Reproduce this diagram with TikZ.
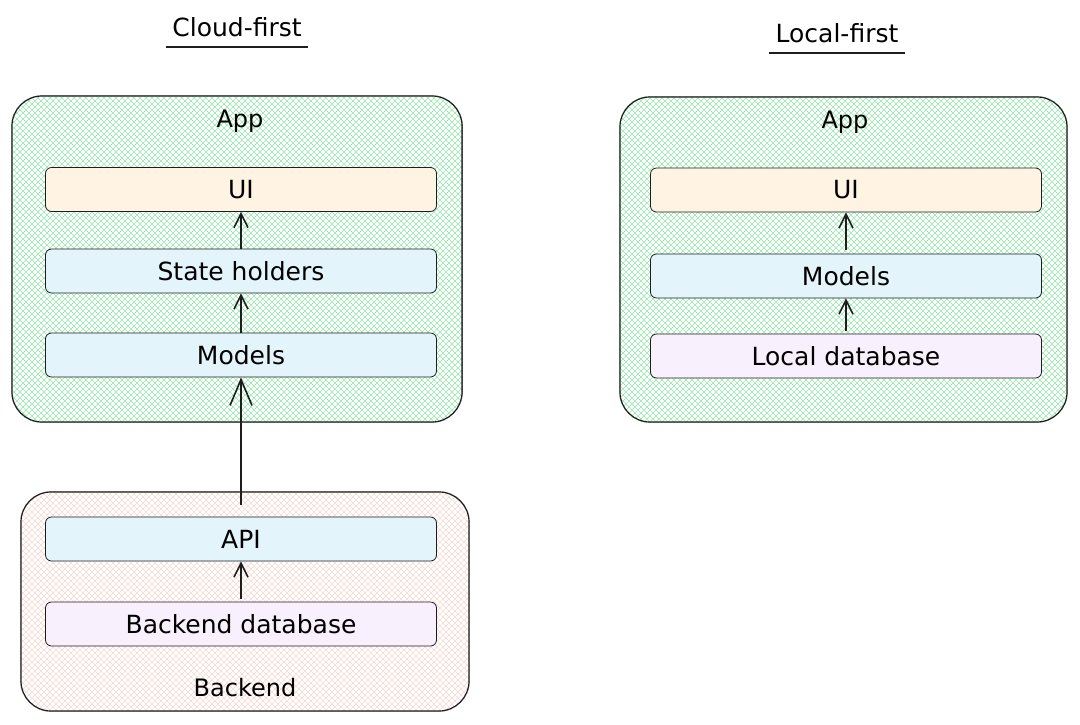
\documentclass[tikz,border=0pt]{standalone}
\usepackage{fontspec}
\setmainfont{DejaVu Sans}
\usetikzlibrary{arrows.meta}
\definecolor{inkline}{RGB}{30,30,30}
\definecolor{hatchgreen}{RGB}{150,232,170}
\definecolor{hatchpink}{RGB}{248,218,212}
\definecolor{uifill}{RGB}{255,243,227}
\definecolor{bluefill}{RGB}{227,244,251}
\definecolor{dbfill}{RGB}{248,240,252}
\tikzstyle{container}=[draw=inkline, line width=1.2pt, rounded corners=30pt, inner sep=0pt]
\tikzstyle{layer}=[draw=inkline, line width=0.8pt, rounded corners=6pt, minimum width=391pt, minimum height=44pt, font=\fontsize{25}{29}\selectfont, text=black]
\tikzstyle{label}=[font=\fontsize{24}{28}\selectfont, text=black]
\tikzstyle{title}=[font=\fontsize{25}{29}\selectfont, text=black, inner xsep=6pt]
\tikzstyle{underline}=[line width=2pt, draw=inkline]
\tikzstyle{flow}=[line width=1.6pt, draw=inkline, -{Straight Barb[length=14pt,width=14pt,line width=1.6pt]}]
\tikzstyle{long flow}=[line width=1.6pt, draw=inkline, -{Straight Barb[length=26pt,width=22pt,line width=1.6pt]}]
% cross hatch clipped to a container node
\newcommand{\hatchfill}[3]{%
  \begin{scope}
    \clip[rounded corners=30pt] (#1.north west) rectangle (#1.south east);
    \fill[white] (#1.north west) rectangle (#1.south east);
    \foreach \c in {-726,-720,...,1080} {
      \draw[#2, line width=#3] (\c, 0) -- ++(724, 724);
      \draw[#2, line width=#3] (\c+724, 0) -- ++(-724, 724);
    }
  \end{scope}}

\begin{document}
\begin{tikzpicture}[x=1pt, y=-1pt]
      \useasboundingbox (0, 0) rectangle (1080, 724);
      % cloud-first
      \node[title] (cloudtitle) at (237, 27) {Cloud-first};
      \draw[underline] ([yshift=-7pt]cloudtitle.south west) -- ([yshift=-7pt]cloudtitle.south east);
      \path (237, 259) node[container, minimum width=450pt, minimum height=326pt] (cloudapp) {};
      \hatchfill{cloudapp}{hatchgreen}{0.6pt}
      \node[container] at (cloudapp) [minimum width=450pt, minimum height=326pt] {};
      \node[label] (cloudapplabel) at (240, 121) {App};
      \node[layer, fill=uifill] (cloudui) at (241, 189.5) {UI};
      \node[layer, fill=bluefill] (state) at (241, 271) {State holders};
      \node[layer, fill=bluefill] (cloudmodels) at (241, 355) {Models};
      \path (245, 601.5) node[container, minimum width=448pt, minimum height=219pt] (backend) {};
      \hatchfill{backend}{hatchpink}{0.5pt}
      \node[container] at (backend) [minimum width=448pt, minimum height=219pt] {};
      \node[label] (backendlabel) at (245, 688) {Backend};
      \node[layer, fill=bluefill] (api) at (241, 539) {API};
      \node[layer, fill=dbfill] (backenddb) at (241, 624) {Backend database};
      \draw[flow] (state) to (cloudui);
      \draw[flow] (cloudmodels) to (state);
      \draw[long flow, shorten <=12pt] (api) to (cloudmodels);
      \draw[flow, shorten <=3pt] (backenddb) to (api);
      % local-first
      \node[title] (localtitle) at (837, 33) {Local-first};
      \draw[underline] ([yshift=-7pt]localtitle.south west) -- ([yshift=-7pt]localtitle.south east);
      \path (843.5, 259.5) node[container, minimum width=447pt, minimum height=325pt] (localapp) {};
      \hatchfill{localapp}{hatchgreen}{0.6pt}
      \node[container] at (localapp) [minimum width=447pt, minimum height=325pt] {};
      \node[label] (localapplabel) at (845, 122) {App};
      \node[layer, fill=uifill] (localui) at (846, 190) {UI};
      \node[layer, fill=bluefill] (localmodels) at (846, 276) {Models};
      \node[layer, fill=dbfill] (localdb) at (846, 356) {Local database};
      \draw[flow, shorten <=4pt] (localmodels) to (localui);
      \draw[flow, shorten <=3pt] (localdb) to (localmodels);
    \end{tikzpicture}
\end{document}
